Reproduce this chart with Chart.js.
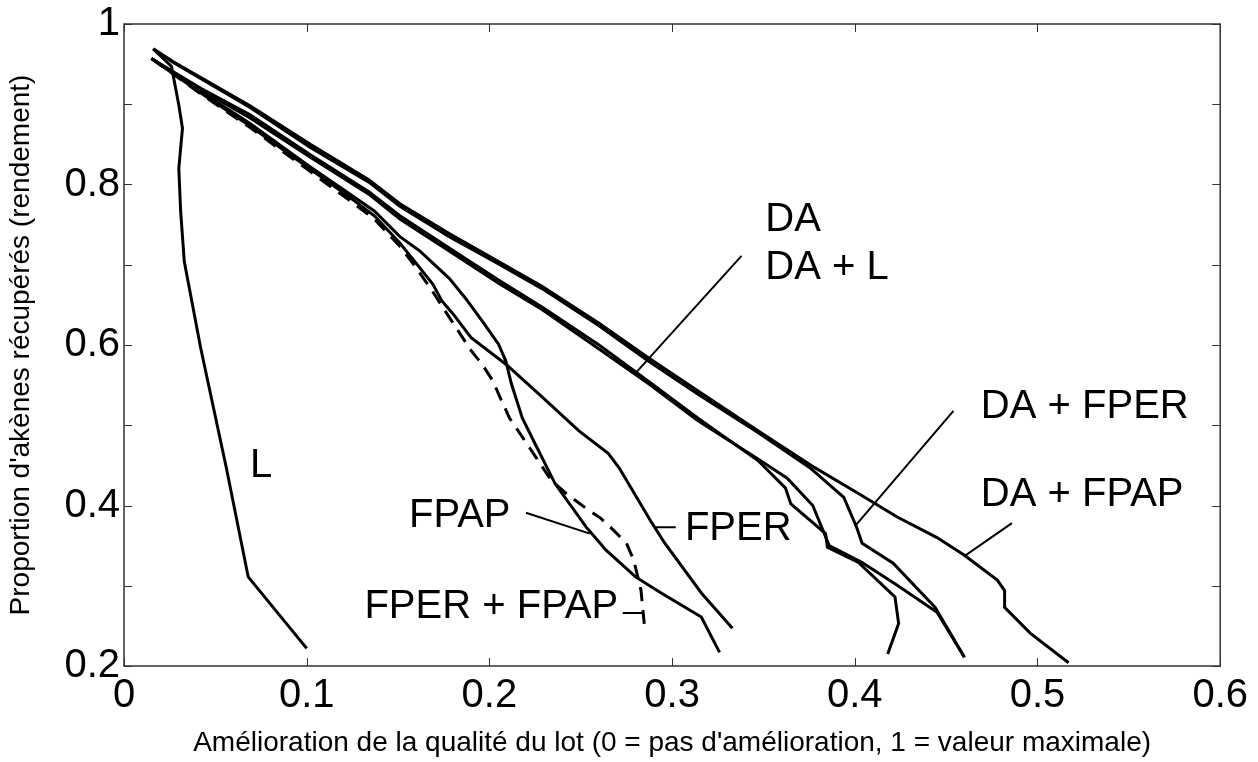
<!DOCTYPE html>
<html>
<head>
<meta charset="utf-8">
<script src="https://cdn.jsdelivr.net/npm/chart.js@4.4.0/dist/chart.umd.min.js"></script>
<style>
  html, body { margin: 0; padding: 0; background: #fff; }
  #wrap { width: 1258px; height: 762px; position: relative; }
</style>
</head>
<body>
<div id="wrap"><canvas id="myChart"></canvas></div>
<script>
// courbes rendement / amélioration (x = amélioration, y = proportion récupérée)
const L_x = [0.016, 0.026, 0.030, 0.032, 0.030, 0.031, 0.033, 0.042, 0.056, 0.068, 0.100];
const L_y = [0.969, 0.947, 0.899, 0.870, 0.820, 0.767, 0.704, 0.596, 0.447, 0.311, 0.222];

const daFpap_x = [0.016, 0.027, 0.069, 0.102, 0.134, 0.151, 0.178, 0.205, 0.229, 0.260, 0.287, 0.314, 0.347, 0.376, 0.402, 0.423, 0.445, 0.460, 0.478, 0.482, 0.482, 0.496, 0.517];
const daFpap_y = [0.969, 0.953, 0.898, 0.850, 0.806, 0.776, 0.739, 0.704, 0.673, 0.627, 0.584, 0.543, 0.493, 0.450, 0.415, 0.386, 0.360, 0.338, 0.307, 0.294, 0.273, 0.241, 0.204];

const daFper_x = [0.016, 0.027, 0.069, 0.102, 0.134, 0.151, 0.178, 0.205, 0.229, 0.260, 0.287, 0.314, 0.347, 0.376, 0.394, 0.401, 0.404, 0.421, 0.444, 0.460];
const daFper_y = [0.969, 0.952, 0.896, 0.846, 0.803, 0.773, 0.735, 0.701, 0.670, 0.624, 0.580, 0.539, 0.491, 0.446, 0.410, 0.373, 0.353, 0.328, 0.273, 0.211];

const da_x = [0.015, 0.042, 0.069, 0.102, 0.134, 0.151, 0.178, 0.205, 0.229, 0.260, 0.287, 0.314, 0.347, 0.362, 0.365, 0.384, 0.385, 0.402, 0.422, 0.424, 0.418];
const da_y = [0.957, 0.920, 0.887, 0.837, 0.791, 0.761, 0.721, 0.681, 0.647, 0.600, 0.555, 0.509, 0.456, 0.422, 0.402, 0.365, 0.348, 0.329, 0.286, 0.253, 0.215];

const daL_x = [0.015, 0.042, 0.069, 0.102, 0.134, 0.151, 0.178, 0.205, 0.229, 0.260, 0.287, 0.314, 0.347, 0.363, 0.377, 0.386, 0.404, 0.423, 0.445, 0.460];
const daL_y = [0.957, 0.918, 0.883, 0.834, 0.788, 0.757, 0.717, 0.677, 0.644, 0.595, 0.552, 0.506, 0.458, 0.434, 0.400, 0.350, 0.329, 0.301, 0.267, 0.211];

const fpap_x = [0.015, 0.042, 0.069, 0.102, 0.123, 0.137, 0.151, 0.162, 0.178, 0.187, 0.196, 0.205, 0.209, 0.212, 0.218, 0.225, 0.236, 0.253, 0.264, 0.280, 0.294, 0.316, 0.326];
const fpap_y = [0.957, 0.916, 0.876, 0.822, 0.789, 0.767, 0.735, 0.717, 0.683, 0.658, 0.630, 0.601, 0.580, 0.552, 0.509, 0.477, 0.427, 0.373, 0.344, 0.311, 0.291, 0.261, 0.217];

const fper_x = [0.015, 0.042, 0.069, 0.102, 0.123, 0.137, 0.151, 0.169, 0.174, 0.180, 0.190, 0.209, 0.227, 0.249, 0.265, 0.271, 0.289, 0.296, 0.316, 0.333];
const fper_y = [0.957, 0.914, 0.873, 0.819, 0.785, 0.761, 0.727, 0.676, 0.655, 0.639, 0.609, 0.576, 0.539, 0.493, 0.465, 0.447, 0.378, 0.353, 0.291, 0.247];

const fperFpap_x = [0.015, 0.042, 0.069, 0.102, 0.123, 0.137, 0.151, 0.158, 0.168, 0.173, 0.190, 0.196, 0.202, 0.205, 0.211, 0.222, 0.234, 0.242, 0.252, 0.261, 0.268, 0.275, 0.279, 0.283, 0.285];
const fperFpap_y = [0.957, 0.913, 0.871, 0.816, 0.781, 0.757, 0.723, 0.702, 0.670, 0.652, 0.593, 0.576, 0.555, 0.539, 0.509, 0.472, 0.431, 0.415, 0.398, 0.384, 0.369, 0.353, 0.332, 0.294, 0.247];

const xTicks = [0, 0.1, 0.2, 0.3, 0.4, 0.5, 0.6];
const yTicks = [0.2, 0.3, 0.4, 0.5, 0.6, 0.7, 0.8, 0.9, 1];
const yLabels = [0.2, 0.4, 0.6, 0.8, 1];

// étiquettes et traits de rappel (en unités des axes)
const etiquettes = [
  { texte: 'DA', x: 0.351, y: 0.742 },
  { texte: 'DA + L', x: 0.351, y: 0.682 },
  { texte: 'DA + FPER', x: 0.469, y: 0.509 },
  { texte: 'DA + FPAP', x: 0.469, y: 0.400 },
  { texte: 'FPER', x: 0.307, y: 0.357 },
  { texte: 'FPAP', x: 0.156, y: 0.373 },
  { texte: 'FPER + FPAP', x: 0.2705, y: 0.260, droite: true },
  { texte: 'L', x: 0.069, y: 0.435 }
];
const traits = [
  [0.338, 0.711, 0.280, 0.565],
  [0.454, 0.518, 0.400, 0.374],
  [0.486, 0.378, 0.460, 0.337],
  [0.291, 0.373, 0.302, 0.373],
  [0.220, 0.391, 0.255, 0.365],
  [0.273, 0.266, 0.284, 0.266]
];

const police = "'Liberation Sans', Arial, sans-serif";

function serie(nom, xs, ys, dash) {
  return {
    label: nom,
    data: xs.map((x, i) => ({ x: x, y: ys[i] })),
    showLine: true,
    borderColor: '#000',
    borderWidth: 3,
    borderDash: dash || [],
    pointRadius: 0,
    tension: 0,
    fill: false
  };
}

const cadre = {
  id: 'cadre',
  afterDatasetsDraw(chart) {
    const ctx = chart.ctx;
    const a = chart.chartArea;
    const sx = chart.scales.x, sy = chart.scales.y;
    ctx.save();
    ctx.strokeStyle = '#333';
    ctx.lineWidth = 1.5;
    ctx.strokeRect(a.left, a.top, a.right - a.left, a.bottom - a.top);
    ctx.lineWidth = 1;
    ctx.beginPath();
    xTicks.forEach(v => {
      const px = Math.round(sx.getPixelForValue(v)) + 0.5;
      ctx.moveTo(px, a.bottom); ctx.lineTo(px, a.bottom - 8);
      ctx.moveTo(px, a.top); ctx.lineTo(px, a.top + 8);
    });
    yTicks.forEach(v => {
      const py = Math.round(sy.getPixelForValue(v)) + 0.5;
      ctx.moveTo(a.left, py); ctx.lineTo(a.left + 8, py);
      ctx.moveTo(a.right, py); ctx.lineTo(a.right - 8, py);
    });
    ctx.stroke();

    ctx.strokeStyle = '#000';
    ctx.lineWidth = 2;
    ctx.beginPath();
    traits.forEach(t => {
      ctx.moveTo(sx.getPixelForValue(t[0]), sy.getPixelForValue(t[1]));
      ctx.lineTo(sx.getPixelForValue(t[2]), sy.getPixelForValue(t[3]));
    });
    ctx.stroke();

    ctx.fillStyle = '#000';
    ctx.font = '40px ' + police;
    ctx.textBaseline = 'alphabetic';
    etiquettes.forEach(e => {
      ctx.textAlign = e.droite ? 'right' : 'left';
      ctx.fillText(e.texte, sx.getPixelForValue(e.x), sy.getPixelForValue(e.y));
    });
    ctx.restore();
  }
};

const fmt = v => String(+(+v).toFixed(1));

new Chart(document.getElementById('myChart'), {
  type: 'scatter',
  data: {
    datasets: [
      serie('L', L_x, L_y),
      serie('DA + FPAP', daFpap_x, daFpap_y),
      serie('DA + FPER', daFper_x, daFper_y),
      serie('DA', da_x, da_y),
      serie('DA + L', daL_x, daL_y),
      serie('FPAP', fpap_x, fpap_y),
      serie('FPER', fper_x, fper_y),
      serie('FPER + FPAP', fperFpap_x, fperFpap_y, [14, 9])
    ]
  },
  options: {
    responsive: true,
    maintainAspectRatio: false,
    animation: false,
    layout: { padding: { top: 22, right: 34, left: 0, bottom: 0 } },
    plugins: { legend: { display: false }, tooltip: { enabled: false } },
    scales: {
      x: {
        type: 'linear',
        min: 0,
        max: 0.6,
        afterBuildTicks: s => { s.ticks = xTicks.map(v => ({ value: v })); },
        afterFit: s => { s.height = 96; },
        grid: { display: false, drawTicks: false },
        border: { display: false },
        ticks: { color: '#000', padding: 10, font: { family: police, size: 40, lineHeight: 1 }, callback: fmt },
        title: {
          display: true,
          text: "Amélioration de la qualité du lot (0 = pas d'amélioration, 1 = valeur maximale)",
          color: '#000',
          font: { family: police, size: 28 },
          padding: { top: 0, bottom: 2 }
        }
      },
      y: {
        type: 'linear',
        min: 0.2,
        max: 1,
        afterBuildTicks: s => { s.ticks = yLabels.map(v => ({ value: v })); },
        afterFit: s => { s.width = 124; },
        grid: { display: false, drawTicks: false },
        border: { display: false },
        ticks: { color: '#000', padding: 4, font: { family: police, size: 40, lineHeight: 1 }, callback: fmt },
        title: {
          display: true,
          text: "Proportion d'akènes récupérés (rendement)",
          color: '#000',
          font: { family: police, size: 28 },
          padding: { top: 4, bottom: 0 }
        }
      }
    }
  },
  plugins: [cadre]
});
</script>
</body>
</html>
